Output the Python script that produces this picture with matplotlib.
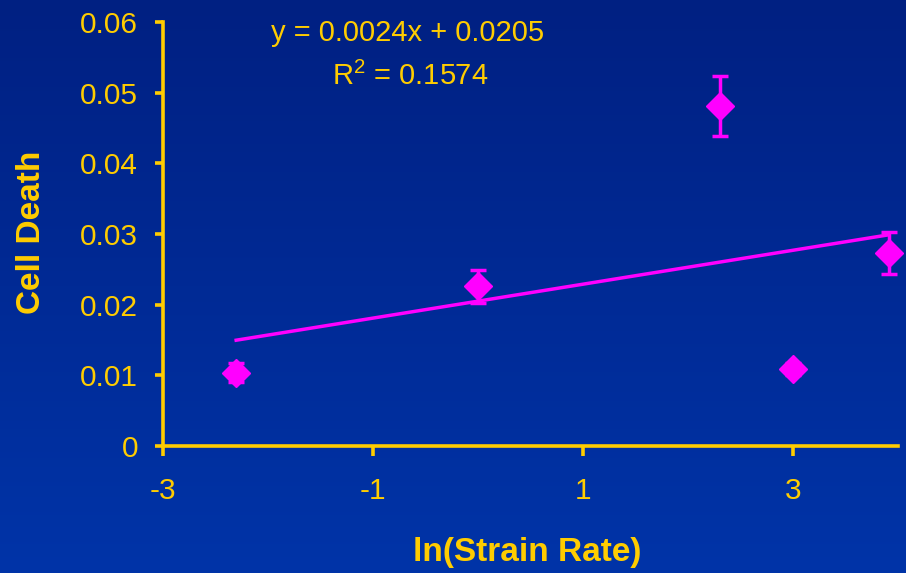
import numpy as np
import matplotlib
matplotlib.use("Agg")
import matplotlib.pyplot as plt
from matplotlib.colors import LinearSegmentedColormap

plt.rcParams['font.family'] = ['Liberation Sans', 'DejaVu Sans']
plt.rcParams['mathtext.fontset'] = 'custom'
plt.rcParams['mathtext.rm'] = 'Liberation Sans'

# Data: ln(strain rate) vs. cell death fraction, with error bars
ln_strain_rate = [-2.303, 0.0, 2.303, 2.996, 3.912]
cell_death = [0.0104, 0.0226, 0.0481, 0.0109, 0.0273]
cell_death_err = [0.0014, 0.0023, 0.0043, 0.0008, 0.0030]

# Linear fit reported on the chart
slope = 0.0024
intercept = 0.0205
r_squared = 0.1574

x_ticks = [-3, -1, 1, 3]
y_ticks = [0, 0.01, 0.02, 0.03, 0.04, 0.05, 0.06]
y_tick_labels = ["0", "0.01", "0.02", "0.03", "0.04", "0.05", "0.06"]

YELLOW = "#FFCC00"
MAGENTA = "#FF00FF"

fig = plt.figure(figsize=(9.06, 5.73), dpi=100)

# Vertical blue gradient background
bg = fig.add_axes([0, 0, 1, 1], zorder=-10)
cmap = LinearSegmentedColormap.from_list("bg", ["#002082", "#0034A8"])
bg.imshow(np.linspace(0, 1, 256).reshape(-1, 1), aspect="auto", cmap=cmap,
          extent=[0, 1, 0, 1], origin="upper")
bg.set_axis_off()

ax = fig.add_axes([0.1799, 0.2216, 0.8113, 0.7400])
ax.patch.set_alpha(0)

eb = ax.errorbar(ln_strain_rate, cell_death, yerr=cell_death_err, fmt="D",
                 color=MAGENTA, markersize=14, elinewidth=2.5, capsize=6,
                 capthick=2.5, zorder=3)
for artist in eb.lines[0:1] + tuple(eb.lines[1]) + tuple(eb.lines[2]):
    artist.set_clip_on(False)

fit_x = np.array([min(ln_strain_rate), max(ln_strain_rate)])
ax.plot(fit_x, slope * fit_x + intercept, color=MAGENTA, lw=2.5, zorder=2)

ax.set_xlim(-3, 4)
ax.set_ylim(0, 0.06)
ax.set_xticks(x_ticks)
ax.set_xticklabels([str(t) for t in x_ticks])
ax.set_yticks(y_ticks)
ax.set_yticklabels(y_tick_labels)

for side in ("top", "right"):
    ax.spines[side].set_visible(False)
for side in ("left", "bottom"):
    ax.spines[side].set_color(YELLOW)
    ax.spines[side].set_linewidth(2.6)

ax.tick_params(axis="y", colors=YELLOW, labelsize=21.5, length=6, width=2.6,
               direction="out", pad=12)
ax.tick_params(axis="x", colors=YELLOW, labelsize=21.5, length=7.5, width=2.6,
               direction="out", pad=15)

fig.text(527 / 906, 1 - 553 / 573, "ln(Strain Rate)", color=YELLOW,
         fontsize=24, fontweight="bold", ha="center", va="center")
fig.text(32 / 906, 1 - 232 / 573, "Cell Death", color=YELLOW, fontsize=24,
         fontweight="bold", ha="center", va="center", rotation=90)

fig.text(408 / 906, 1 - 33 / 573, f"y = {slope}x + {intercept}",
         color=YELLOW, fontsize=21, ha="center", va="center")
fig.text(410 / 906, 1 - 76 / 573, r"R$^{2}$ = " + f"{r_squared}",
         color=YELLOW, fontsize=21, ha="center", va="center")

fig.savefig("out.png", dpi=100)
